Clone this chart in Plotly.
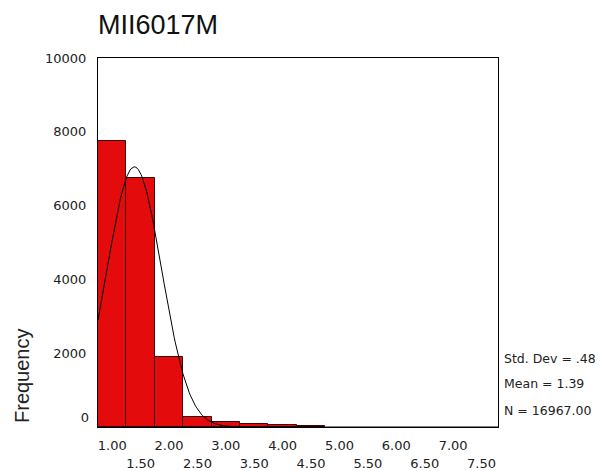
import numpy as np
import plotly.graph_objects as go

# ---- data ----
bin_centers = [1.00, 1.50, 2.00, 2.50, 3.00, 3.50, 4.00, 4.50]
frequencies = [7760, 6740, 1895, 270, 125, 90, 45, 30]
bin_width = 0.5

std_dev = 0.48
mean = 1.39
n_total = 16967

x_ticks_row1 = [1.00, 2.00, 3.00, 4.00, 5.00, 6.00, 7.00]
x_ticks_row2 = [1.50, 2.50, 3.50, 4.50, 5.50, 6.50, 7.50]
y_ticks = [2000, 4000, 6000, 8000, 10000]

title_text = "MII6017M"
y_title = "Frequency"
stats_lines = ["Std. Dev = .48", "Mean = 1.39", "N = 16967.00"]

x_range = [0.75, 7.79]
y_range = [0, 10000]

# normal curve fitted from the reported statistics (as SPSS draws it)
xc = np.linspace(x_range[0], x_range[1], 400)
yc = n_total * bin_width / (std_dev * np.sqrt(2 * np.pi)) * np.exp(-0.5 * ((xc - mean) / std_dev) ** 2)

TICK_FONT = dict(family="DejaVu Sans", size=13, color="#222222")

fig = go.Figure()
fig.add_trace(go.Bar(
    x=bin_centers, y=frequencies, width=bin_width,
    marker=dict(color="#E30B0B", line=dict(color="#3a0505", width=1)),
    xaxis="x", yaxis="y", showlegend=False, hoverinfo="x+y",
))
fig.add_trace(go.Scatter(
    x=xc, y=yc, mode="lines", line=dict(color="black", width=1),
    xaxis="x2", yaxis="y2", showlegend=False, hoverinfo="skip",
))

fig.update_layout(
    width=603, height=471,
    margin=dict(l=98, r=105, t=58, b=44),
    paper_bgcolor="white", plot_bgcolor="white",
    bargap=0,
    xaxis=dict(range=x_range, tickvals=x_ticks_row1,
               ticktext=[f"{v:.2f}" for v in x_ticks_row1],
               showgrid=False, zeroline=False, ticks="", automargin=False,
               showline=True, linecolor="black", linewidth=1, mirror=True,
               tickfont=TICK_FONT, ticklabelstandoff=6),
    yaxis=dict(range=y_range, tickvals=y_ticks,
               ticktext=[str(v) for v in y_ticks],
               showgrid=False, zeroline=False, ticks="", automargin=False,
               showline=True, linecolor="black", linewidth=1, mirror=True,
               tickfont=TICK_FONT, ticklabelstandoff=8),
    xaxis2=dict(overlaying="x", anchor="y2", matches="x", range=x_range,
                tickvals=x_ticks_row2, ticktext=[f"{v:.2f}" for v in x_ticks_row2],
                showgrid=False, zeroline=False, ticks="", showline=False,
                automargin=False, tickfont=TICK_FONT, ticklabelstandoff=27),
    yaxis2=dict(overlaying="y", anchor="x2", matches="y", range=y_range,
                tickvals=[0], ticktext=["0"],
                showgrid=False, zeroline=False, ticks="", showline=False,
                automargin=False, tickfont=TICK_FONT, ticklabelstandoff=8,
                ticklabelshift=-10),
)

annotations = [
    dict(text=title_text, xref="paper", yref="paper", x=-0.005, y=1.0,
         xanchor="left", yanchor="bottom", yshift=16, showarrow=False,
         font=dict(family="Liberation Sans, Arial", size=27, color="#111111")),
    dict(text=y_title, xref="paper", yref="paper", x=0, xshift=-76,
         y=(427 - 376) / 369.0, textangle=-90, xanchor="center", yanchor="middle",
         showarrow=False,
         font=dict(family="Liberation Sans, Arial", size=20, color="#222222")),
]
stat_y_px = [358, 383, 410]
for txt, ypx in zip(stats_lines, stat_y_px):
    annotations.append(dict(
        text=txt, xref="paper", yref="paper", x=1.0, xshift=4,
        y=(427 - ypx) / 369.0, xanchor="left", yanchor="middle", showarrow=False,
        font=dict(family="DejaVu Sans", size=12.5, color="#222222")))
fig.update_layout(annotations=annotations)

fig.write_html("out.html")
